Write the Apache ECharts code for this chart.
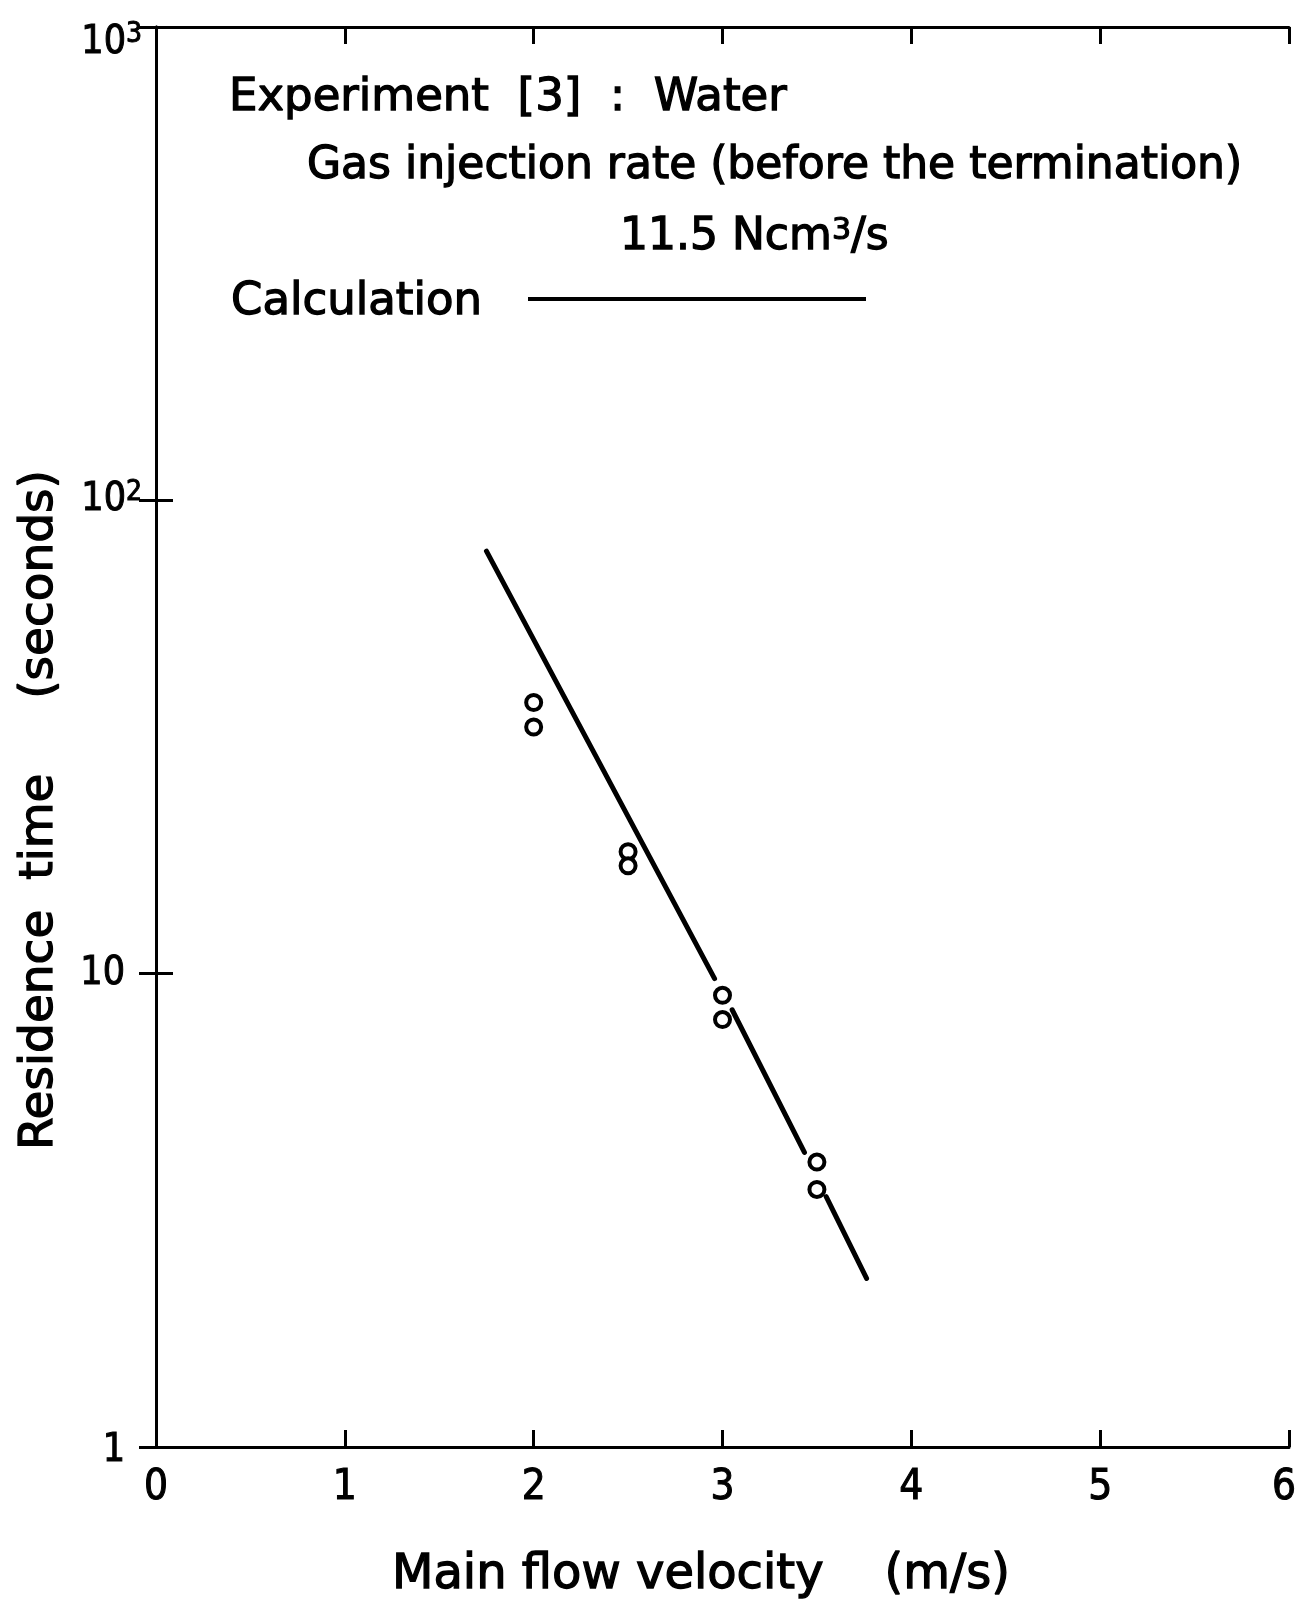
<!DOCTYPE html>
<html>
<head>
<meta charset="utf-8">
<title>Residence time vs main flow velocity</title>
<script src="https://cdn.jsdelivr.net/npm/echarts@6/dist/echarts.min.js"></script>
<style>
  html, body { margin: 0; padding: 0; background: #fff; }
  #chart { width: 1297px; height: 1602px; }
</style>
</head>
<body>
<div id="chart"></div>
<script>
// Experiment [3], water: measured residence times (s) at each main flow velocity (m/s)
const expVelocity = [2.0, 2.0, 2.5, 2.5, 3.0, 3.0, 3.5, 3.5];
const expTime     = [37.4, 33.2, 18.1, 16.9, 9.0, 8.0, 4.0, 3.5];

// Calculated curve, drawn in pieces so it breaks around the measured points
const calcSeg1 = [[1.75, 78.1], [2.958, 9.76]];
const calcSeg2 = [[3.051, 8.39], [3.434, 4.19]];
const calcSeg3 = [[3.549, 3.38], [3.763, 2.27]];
const calcSegments = [calcSeg1, calcSeg2, calcSeg3];

// Axis ticks
const xTickLabels = ['0', '1', '2', '3', '4', '5', '6'];
const yTickValues = [1, 10, 100, 1000];
const yTickBase   = ['1', '10', '10', '10'];
const yTickExp    = ['', '', '2', '3'];

const FONT = '"DejaVu Sans", "Liberation Sans", sans-serif';
const DIGITS = '"Liberation Sans Narrow", "DejaVu Sans Condensed", "DejaVu Sans", sans-serif';
const INK = '#000';
const Y_LABEL_MARGIN = 14;

function yTickIndex(v) {
  return yTickValues.findIndex(t => Math.abs(Math.log10(t) - Math.log10(v)) < 1e-6);
}
function yLabelText(i) {
  return yTickExp[i] ? yTickBase[i] + '{sup|' + yTickExp[i] + '}' : yTickBase[i] + '{pad| }';
}
function yLabel(v) {
  const i = yTickIndex(v);
  if (i < 0) return '';
  if (i === 0) return '{low|' + yTickBase[i] + '}{pad| }';
  return yLabelText(i);
}

function xLabel(v) {
  const i = Math.round(v);
  const s = xTickLabels[i] ?? '';
  return i === xTickLabels.length - 1 ? '{last|' + s + '}' : s;
}

const chart = echarts.init(document.getElementById('chart'), null, { renderer: 'canvas' });

const axisLineStyle = { lineStyle: { color: INK, width: 3 } };
const tickStyle = { show: true, inside: true, length: 17, lineStyle: { color: INK, width: 3 } };
const labelInk = { color: INK, textBorderColor: INK, textBorderWidth: 1, fontFamily: DIGITS };
const yRich = {
  sup: Object.assign({ fontSize: 28, lineHeight: 20, verticalAlign: 'top' }, labelInk),
  pad: { fontFamily: DIGITS, fontSize: 24, width: 17 },
  low: Object.assign({ fontSize: 39, lineHeight: 44, padding: [8, 0, 0, 0] }, labelInk)
};

// pen-like text: fill plus a thin outline in the same ink
function penText(text, x, y, size, extra) {
  return Object.assign({
    type: 'text', x: x, y: y,
    style: {
      text: text, font: size + 'px ' + FONT, fill: INK,
      stroke: INK, lineWidth: 1.3,
      align: 'left', verticalAlign: 'middle'
    }
  }, extra || {});
}

const series = calcSegments.map(seg => ({
  type: 'line',
  data: seg,
  showSymbol: false,
  symbol: 'none',
  lineStyle: { color: INK, width: 5, cap: 'round' },
  z: 2,
  silent: true
}));
series.push({
  type: 'scatter',
  data: expVelocity.map((v, i) => [v, expTime[i]]),
  symbol: 'circle',
  symbolSize: 15,
  itemStyle: { color: '#fff', borderColor: INK, borderWidth: 4, opacity: 1 },
  z: 3,
  silent: true
});

const title3 = penText('11.5 Ncm{sup|3}/s', 620, 238, 44);
title3.style.rich = {
  sup: { fontFamily: FONT, fontSize: 30, lineHeight: 22, verticalAlign: 'top', fill: INK, stroke: INK, lineWidth: 1.2 }
};

const yTitle = penText('Residence  time     (seconds)', 40, 810, 47);
yTitle.style.align = 'center';
yTitle.rotation = Math.PI / 2;

const xTitle = penText('Main flow velocity    (m/s)', 701, 1576, 48);
xTitle.style.align = 'center';

const GRID_LEFT = 156;

chart.setOption({
  animation: false,
  backgroundColor: '#fff',
  grid: { left: GRID_LEFT, top: 27, right: 8, bottom: 155, containLabel: false, outerBoundsMode: 'none' },
  xAxis: [
    {
      type: 'value', position: 'bottom', min: 0, max: 6, interval: 1,
      axisLine: axisLineStyle, axisTick: tickStyle, splitLine: { show: false },
      axisLabel: {
        color: INK, fontFamily: DIGITS, fontSize: 42, margin: 20,
        textBorderColor: INK, textBorderWidth: 1,
        showMinLabel: true, showMaxLabel: true,
        formatter: xLabel,
        rich: {
          last: Object.assign({ fontSize: 42, padding: [0, 10, 0, 0] }, labelInk)
        }
      }
    },
    {
      type: 'value', position: 'top', min: 0, max: 6, interval: 1,
      axisLine: axisLineStyle, axisTick: tickStyle, splitLine: { show: false },
      axisLabel: { show: false }
    }
  ],
  yAxis: [
    {
      type: 'log', logBase: 10, position: 'left', min: 1, max: 1000,
      axisLine: axisLineStyle, axisTick: tickStyle, splitLine: { show: false },
      minorTick: { show: false },
      axisLabel: {
        color: INK, fontFamily: DIGITS, fontSize: 39, margin: Y_LABEL_MARGIN,
        textBorderColor: INK, textBorderWidth: 1,
        showMinLabel: true, showMaxLabel: false,
        lineHeight: 44,
        formatter: yLabel,
        rich: yRich
      }
    },
    {
      type: 'log', logBase: 10, position: 'right', min: 1, max: 1000,
      axisLine: axisLineStyle, axisTick: tickStyle, splitLine: { show: false },
      minorTick: { show: false },
      axisLabel: { show: false }
    }
  ],
  series: series,
  graphic: [
    penText('Experiment  [3]  :  Water', 229, 98, 45),
    penText('Gas injection rate (before the termination)', 307, 167, 44),
    title3,
    penText('Calculation', 231, 302, 45),
    {
      type: 'line',
      shape: { x1: 528, y1: 299, x2: 866, y2: 299 },
      style: { stroke: INK, lineWidth: 4 }
    },
    yTitle,
    xTitle
  ]
});

// Top decade label: placed from the axis scale, dropped a little below its tick
// so it sits beside the frame rather than above it.
const topIdx = yTickValues.length - 1;
const yTopPx = chart.convertToPixel({ yAxisIndex: 0 }, yTickValues[topIdx]);
chart.setOption({
  graphic: [{
    id: 'yTopLabel',
    type: 'text',
    x: GRID_LEFT - Y_LABEL_MARGIN,
    y: yTopPx + 16,
    style: {
      text: yLabelText(topIdx),
      fill: INK, stroke: INK, lineWidth: 1,
      font: '39px ' + DIGITS,
      align: 'right', verticalAlign: 'middle',
      lineHeight: 44,
      rich: {
        sup: { fontFamily: DIGITS, fontSize: 28, lineHeight: 20, verticalAlign: 'top', fill: INK, stroke: INK, lineWidth: 1 }
      }
    }
  }]
});
</script>
</body>
</html>
